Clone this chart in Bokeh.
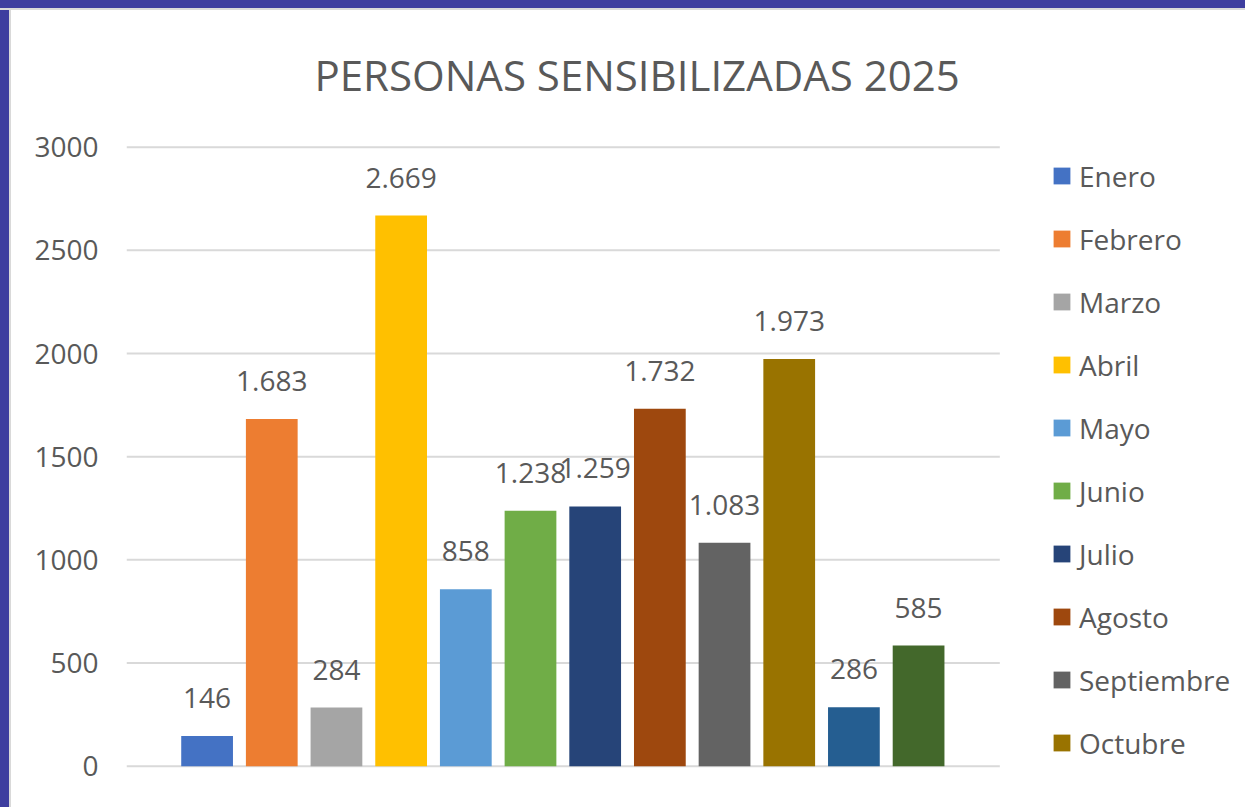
from bokeh.plotting import figure
from bokeh.models import ColumnDataSource, FixedTicker, Legend, LegendItem, Range1d
from bokeh.core.properties import value
from bokeh.embed import file_html
from bokeh.resources import INLINE

# ---- data ----
months = ["Enero", "Febrero", "Marzo", "Abril", "Mayo", "Junio", "Julio",
          "Agosto", "Septiembre", "Octubre", "Noviembre", "Diciembre"]
values = [146, 1683, 284, 2669, 858, 1238, 1259, 1732, 1083, 1973, 286, 585]
colors = ["#4472C4", "#ED7D31", "#A5A5A5", "#FFC000", "#5B9BD5", "#70AD47",
          "#264478", "#9E480E", "#636363", "#997300", "#255E91", "#43682B"]
y_ticks = [0, 500, 1000, 1500, 2000, 2500, 3000]
legend_months = months[:10]
title_text = "PERSONAS SENSIBILIZADAS 2025"

labels = [f"{v:,}".replace(",", ".") for v in values]
xs = list(range(1, len(values) + 1))

src = ColumnDataSource(dict(x=xs, v=values, c=colors, lab=labels))

FONT = "Open Sans"
TXT = "#595959"

# plot-area layout (x extent of the category area, wider frame holds the legend)
X_START, GRID_END, X_END = -0.246, 13.256, 16.977

p = figure(width=1240, height=800, output_backend="svg", toolbar_location=None,
           x_axis_type=None,
           x_range=Range1d(X_START, X_END), y_range=Range1d(-30.5, 3032.5),
           min_border_left=126, min_border_right=0, min_border_top=140,
           min_border_bottom=28)
p.border_fill_color = None
p.background_fill_color = None
p.outline_line_color = None

p.title.text = title_text
p.title.text_font = FONT
p.title.text_font_size = "42px"
p.title.text_font_style = "normal"
p.title.text_color = TXT
p.title.align = "left"
p.title.offset = 188
p.title.standoff = 76

yax = p.yaxis[0]
yax.ticker = FixedTicker(ticks=y_ticks)
yax.axis_line_color = None
yax.major_tick_line_color = None
yax.minor_tick_line_color = None
yax.major_label_text_font = FONT
yax.major_label_text_font_size = "28px"
yax.major_label_text_color = TXT
yax.major_label_standoff = 22

p.ygrid.grid_line_color = None
p.segment(x0=[X_START] * len(y_ticks), x1=[GRID_END] * len(y_ticks),
          y0=y_ticks, y1=y_ticks, line_color="#D9D9D9", line_width=2)

bars = p.vbar(x="x", top="v", width=0.8, bottom=0, source=src,
              fill_color="c", line_color=None)

p.text(x="x", y="v", text="lab", source=src, text_align="center",
       text_baseline="alphabetic", y_offset=-38, text_font=value(FONT),
       text_font_size="28px", text_color=TXT)

items = [LegendItem(label=m, renderers=[bars], index=i)
         for i, m in enumerate(legend_months)]
legend = Legend(items=items, location=(925, -2), orientation="vertical",
                glyph_width=21, glyph_height=21, label_standoff=7,
                label_height=63, spacing=0, padding=0, margin=0,
                label_text_font=FONT, label_text_font_size="28px",
                label_text_color=TXT, border_line_color=None,
                background_fill_alpha=0)
p.add_layout(legend, "center")

html = file_html(p, INLINE)
style = ("<style>html{background:"
         "linear-gradient(to bottom,#3D3D9F 0,#3D3D9F 8px,#D9D9D9 8px,#D9D9D9 10px,rgba(255,255,255,0) 10px),"
         "linear-gradient(to right,#3D3D9F 0,#3D3D9F 9px,#D9D9D9 9px,#D9D9D9 11px,#FFFFFF 11px);}"
         "</style>")
html = html.replace("</head>", style + "</head>", 1)
open("out.html", "w").write(html)
